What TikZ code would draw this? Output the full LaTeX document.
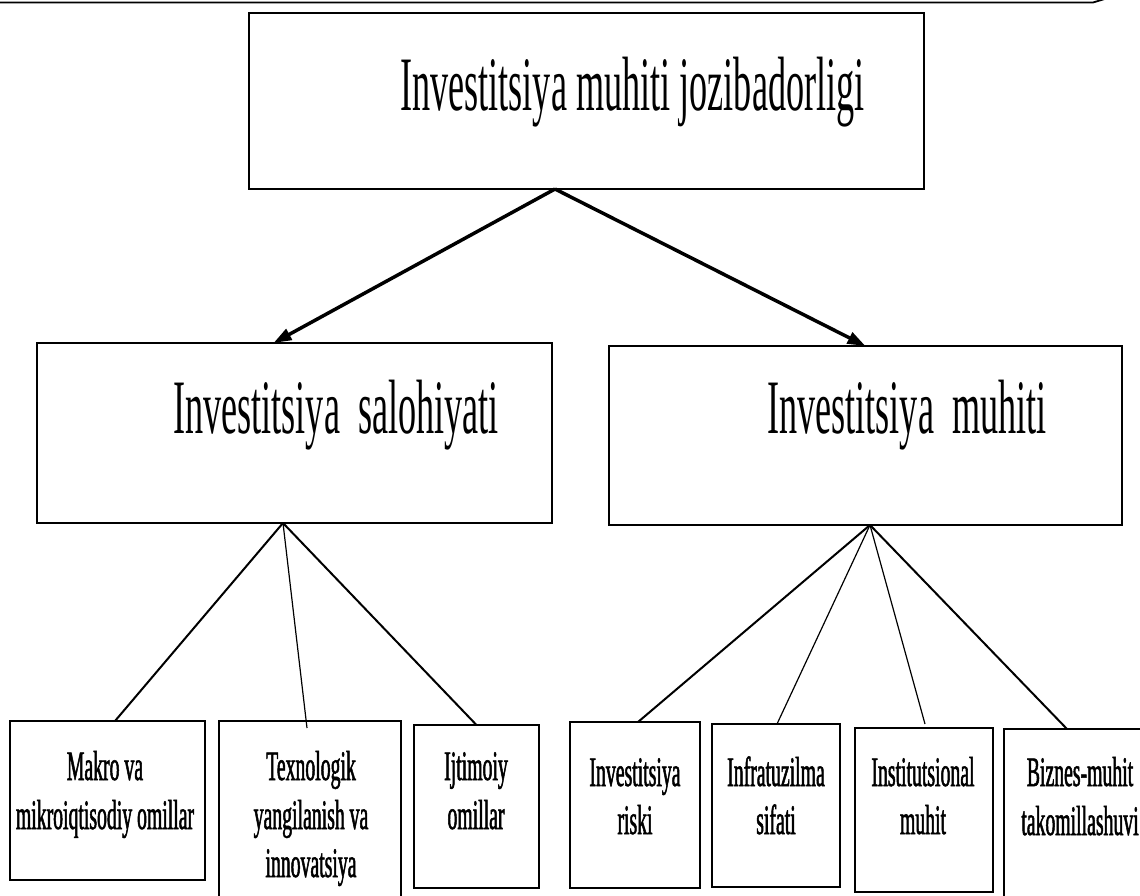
\documentclass[tikz,border=0pt]{standalone}
\usepackage{fontspec}
\setmainfont{Liberation Serif}
\newfontfamily\condserif[FakeStretch=0.47]{Liberation Serif}
\newfontfamily\condserifheavy[FakeStretch=0.47,FakeBold=1.2]{Liberation Serif}
\usetikzlibrary{arrows.meta}
\begin{document}
\begin{tikzpicture}[x=1pt,y=-1pt,
  boxn/.style={draw, line width=2pt, inner sep=0pt, outer sep=0pt, anchor=north west, fill=white},
  bigt/.style={font=\condserif\fontsize{77}{90}\selectfont, inner sep=0pt, anchor=base west},
  smt/.style={font=\condserifheavy\fontsize{42}{48}\selectfont, inner sep=0pt, anchor=base},
  thickarrow/.style={line width=3.5pt, -{Triangle[length=18pt,width=12pt]}},
  fanthick/.style={line width=2pt},
  fanthin/.style={line width=1.2pt}]
\useasboundingbox (0,0) rectangle (1140,895);
\fill[white] (0,0) rectangle (1140,895);

% top frame line
\coordinate (tl0) at (0,2.5);
\coordinate (tl1) at (1093,2.5);
\coordinate (tl2) at (1108,-2);
\draw[line width=1.8pt] (tl0) -- (tl1) -- (tl2);

% boxes
\node[boxn, minimum width=675pt, minimum height=176pt] (top) at (249,13) {};
\node[boxn, minimum width=515pt, minimum height=180pt] (sal) at (37,343) {};
\node[boxn, minimum width=513pt, minimum height=179pt] (muh) at (609,346) {};
\node[boxn, minimum width=195pt, minimum height=159pt] (b1) at (10,721) {};
\node[boxn, minimum width=182pt, minimum height=185pt] (b2) at (219,721) {};
\node[boxn, minimum width=125pt, minimum height=163pt] (b3) at (414,725) {};
\node[boxn, minimum width=130pt, minimum height=166pt] (b4) at (570,722) {};
\node[boxn, minimum width=128pt, minimum height=163pt] (b5) at (712,724) {};
\node[boxn, minimum width=138pt, minimum height=164pt] (b6) at (855,728) {};
\node[boxn, minimum width=150pt, minimum height=180pt] (b7) at (1004,729) {};

% texts
\node[bigt] (topT) at (400,110) {Investitsiya muhiti jozibadorligi};
\node[bigt] (salT) at (173,433) {Investitsiya~~salohiyati};
\node[bigt] (muhT) at (767,433) {Investitsiya~~muhiti};

\node[smt] (t1a) at (105,780) {Makro va};
\node[smt] (t1b) at (105,829) {mikroiqtisodiy omillar};
\node[smt] (t2a) at (311,780) {Texnologik};
\node[smt] (t2b) at (311,829) {yangilanish va};
\node[smt] (t2c) at (311,877) {innovatsiya};
\node[smt] (t3a) at (476,780) {Ijtimoiy};
\node[smt] (t3b) at (476,829) {omillar};
\node[smt] (t4a) at (635,786) {Investitsiya};
\node[smt] (t4b) at (635,834) {riski};
\node[smt] (t5a) at (776,786) {Infratuzilma};
\node[smt] (t5b) at (776,834) {sifati};
\node[smt] (t6a) at (923,786) {Institutsional};
\node[smt] (t6b) at (923,834) {muhit};
\node[smt] (t7a) at (1080,786) {Biznes-muhit};
\node[smt] (t7b) at (1080,835) {takomillashuvi};

% connectors
\coordinate (topA) at ([xshift=-31.5pt]top.south);
\draw[thickarrow] (topA) -- ([xshift=-21pt]sal.north);
\draw[thickarrow] (topA) -- (muh.north);

\coordinate (salA) at ([xshift=-11.5pt]sal.south);
\draw[fanthick] (salA) -- ([xshift=7.5pt]b1.north);
\draw[fanthin] (salA) -- ([xshift=-3pt,yshift=-7pt]b2.north);
\draw[fanthick] (salA) -- (b3.north);

\coordinate (muhA) at ([xshift=4.5pt]muh.south);
\draw[fanthick] (muhA) -- ([xshift=3pt]b4.north);
\draw[fanthin] (muhA) -- ([xshift=1pt]b5.north);
\draw[fanthin] (muhA) -- ([xshift=1pt,yshift=4pt]b6.north);
\draw[fanthick] (muhA) -- ([xshift=-12pt]b7.north);
\end{tikzpicture}
\end{document}
